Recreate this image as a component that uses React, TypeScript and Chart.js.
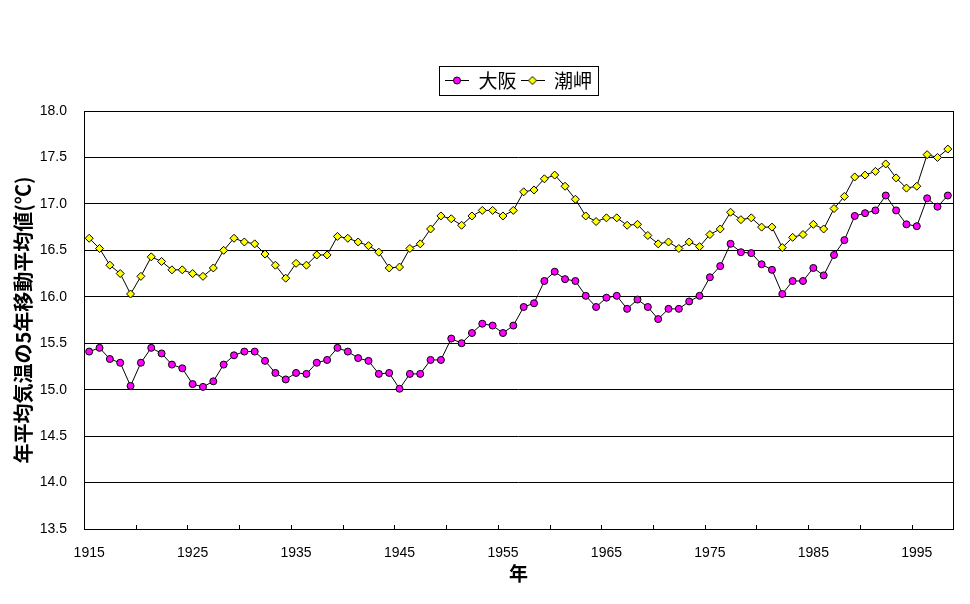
import React, { useEffect, useRef } from "react";
import { Chart, registerables } from "chart.js";

Chart.register(...registerables);

const years = [
  "1915", "1916", "1917", "1918", "1919", "1920", "1921", "1922", "1923", "1924",
  "1925", "1926", "1927", "1928", "1929", "1930", "1931", "1932", "1933", "1934",
  "1935", "1936", "1937", "1938", "1939", "1940", "1941", "1942", "1943", "1944",
  "1945", "1946", "1947", "1948", "1949", "1950", "1951", "1952", "1953", "1954",
  "1955", "1956", "1957", "1958", "1959", "1960", "1961", "1962", "1963", "1964",
  "1965", "1966", "1967", "1968", "1969", "1970", "1971", "1972", "1973", "1974",
  "1975", "1976", "1977", "1978", "1979", "1980", "1981", "1982", "1983", "1984",
  "1985", "1986", "1987", "1988", "1989", "1990", "1991", "1992", "1993", "1994",
  "1995", "1996", "1997", "1998",
];

const osaka = [
  15.41, 15.45, 15.33, 15.29, 15.04, 15.29, 15.45, 15.39, 15.27, 15.23,
  15.06, 15.03, 15.09, 15.27, 15.37, 15.41, 15.41, 15.31, 15.18, 15.11,
  15.18, 15.17, 15.29, 15.32, 15.45, 15.41, 15.34, 15.31, 15.17, 15.18,
  15.01, 15.17, 15.17, 15.32, 15.32, 15.55, 15.50, 15.61, 15.71, 15.69,
  15.61, 15.69, 15.89, 15.93, 16.17, 16.27, 16.19, 16.17, 16.01, 15.89,
  15.99, 16.01, 15.87, 15.97, 15.89, 15.76, 15.87, 15.87, 15.95, 16.01,
  16.21, 16.33, 16.57, 16.48, 16.47, 16.35, 16.29, 16.03, 16.17, 16.17,
  16.31, 16.23, 16.45, 16.61, 16.87, 16.90, 16.93, 17.09, 16.93, 16.78,
  16.76, 17.06, 16.97, 17.09,
];

const shionomisaki = [
  16.63, 16.52, 16.34, 16.25, 16.03, 16.22, 16.43, 16.38, 16.29, 16.29,
  16.25, 16.22, 16.31, 16.50, 16.63, 16.59, 16.57, 16.46, 16.34, 16.20,
  16.36, 16.34, 16.45, 16.45, 16.65, 16.63, 16.59, 16.55, 16.48, 16.31,
  16.32, 16.52, 16.57, 16.73, 16.87, 16.84, 16.77, 16.87, 16.93, 16.93,
  16.87, 16.93, 17.13, 17.15, 17.27, 17.31, 17.19, 17.05, 16.87, 16.81,
  16.85, 16.85, 16.77, 16.78, 16.66, 16.57, 16.59, 16.52, 16.59, 16.54,
  16.67, 16.73, 16.91, 16.83, 16.85, 16.75, 16.75, 16.53, 16.64, 16.67,
  16.78, 16.73, 16.95, 17.08, 17.29, 17.31, 17.35, 17.43, 17.28, 17.17,
  17.19, 17.53, 17.50, 17.59,
];

const seriesNames = ["大阪", "潮岬"];
const yMin = 13.5;
const yMax = 18.0;
const yStep = 0.5;
const yTitle = "年平均気温の5年移動平均値(℃)";
const xTitle = "年";

const CJK = '"Noto Sans CJK JP", sans-serif';
const LATIN = '"Liberation Sans", Arial, sans-serif';

function makeLegendImage(kind: "circle" | "diamond", fill: string) {
  const c = document.createElement("canvas");
  c.width = 24;
  c.height = 11;
  const g = c.getContext("2d")!;
  g.strokeStyle = "#000";
  g.lineWidth = 1;
  g.beginPath();
  g.moveTo(0, 5.5);
  g.lineTo(24, 5.5);
  g.stroke();
  g.fillStyle = fill;
  g.beginPath();
  if (kind === "circle") {
    g.arc(12, 5.5, 3.5, 0, Math.PI * 2);
  } else {
    g.moveTo(12, 1.5);
    g.lineTo(16, 5.5);
    g.lineTo(12, 9.5);
    g.lineTo(8, 5.5);
    g.closePath();
  }
  g.fill();
  g.stroke();
  return c;
}

export default function App() {
  const ref = useRef<HTMLCanvasElement | null>(null);

  useEffect(() => {
    if (!ref.current) return;
    const legendImages = [
      makeLegendImage("circle", "#FF00FF"),
      makeLegendImage("diamond", "#FFFF00"),
    ];

    const framePlugin = {
      id: "excelFrame",
      afterLayout(chart: any) {
        const lg = chart.legend;
        const ca = chart.chartArea;
        if (lg) {
          lg.left = ca.left;
          lg.right = ca.right;
          lg.width = ca.right - ca.left;
          lg.top -= 11;
          lg.bottom -= 11;
        }
      },
      beforeDatasetsDraw(chart: any) {
        const { ctx, chartArea } = chart;
        const xs = chart.scales.x;
        ctx.save();
        ctx.strokeStyle = "#000";
        ctx.lineWidth = 1;
        ctx.strokeRect(
          Math.round(chartArea.left) + 0.5,
          Math.round(chartArea.top) + 0.5,
          Math.round(chartArea.right) - Math.round(chartArea.left),
          Math.round(chartArea.bottom) - Math.round(chartArea.top)
        );
        for (let i = 5; i < years.length; i += 5) {
          const px = Math.round((xs.getPixelForValue(i - 1) + xs.getPixelForValue(i)) / 2) + 0.5;
          ctx.beginPath();
          ctx.moveTo(px, Math.round(chartArea.bottom));
          ctx.lineTo(px, Math.round(chartArea.bottom) - 4);
          ctx.stroke();
        }
        ctx.restore();
      },
      afterDraw(chart: any) {
        const lg = chart.legend;
        if (!lg || !lg.legendHitBoxes || !lg.legendHitBoxes.length) return;
        const hb = lg.legendHitBoxes;
        let l = Infinity, r = -Infinity, t = Infinity, b = -Infinity;
        hb.forEach((h: any) => {
          l = Math.min(l, h.left);
          r = Math.max(r, h.left + h.width);
          t = Math.min(t, h.top);
          b = Math.max(b, h.top + h.height);
        });
        const ctx = chart.ctx;
        ctx.save();
        ctx.strokeStyle = "#000";
        ctx.lineWidth = 1;
        ctx.strokeRect(Math.round(l - 6) + 0.5, Math.round(t - 5) + 0.5, Math.round(r - l + 12), Math.round(b - t + 10));
        ctx.restore();
      },
    };

    const chart = new Chart(ref.current, {
      type: "line",
      data: {
        labels: years,
        datasets: [
          {
            label: seriesNames[0],
            data: osaka,
            borderColor: "#000",
            borderWidth: 1,
            pointStyle: "circle",
            pointRadius: 3.5,
            pointBackgroundColor: "#FF00FF",
            pointBorderColor: "#000",
            pointBorderWidth: 1,
            tension: 0,
          },
          {
            label: seriesNames[1],
            data: shionomisaki,
            borderColor: "#000",
            borderWidth: 1,
            pointStyle: "rectRot",
            pointRadius: 4,
            pointBackgroundColor: "#FFFF00",
            pointBorderColor: "#000",
            pointBorderWidth: 1,
            tension: 0,
          },
        ],
      },
      options: {
        responsive: false,
        animation: false,
        devicePixelRatio: 1,
        layout: { padding: { top: 78, left: 0, right: 17, bottom: 0 } },
        plugins: {
          tooltip: { enabled: false },
          legend: {
            display: true,
            position: "top",
            align: "center",
            labels: {
              usePointStyle: true,
              pointStyleWidth: 24,
              padding: 4,
              color: "#000",
              font: { family: CJK, size: 19 },
              generateLabels: (c: any) => {
                const items = (Chart.defaults.plugins.legend.labels as any).generateLabels(c);
                return items.map((it: any, i: number) => ({ ...it, pointStyle: legendImages[i] }));
              },
            },
          },
        },
        scales: {
          x: {
            type: "category",
            offset: true,
            grid: { display: false },
            border: { display: false },
            ticks: {
              autoSkip: false,
              maxRotation: 0,
              minRotation: 0,
              padding: 8,
              color: "#000",
              font: { family: LATIN, size: 14 },
              callback: (_v: any, idx: number) => (idx % 10 === 0 ? years[idx] : ""),
            },
            title: {
              display: true,
              text: xTitle,
              color: "#000",
              font: { family: CJK, size: 19, weight: "bold" },
              padding: { top: 19, bottom: 19 },
            },
            afterFit: (s: any) => {
              s.height = 75;
            },
          },
          y: {
            min: yMin,
            max: yMax,
            border: { display: false },
            grid: { color: "#000", lineWidth: 1, drawTicks: false },
            ticks: {
              stepSize: yStep,
              padding: 17,
              color: "#000",
              font: { family: LATIN, size: 14 },
              callback: (v: any) => Number(v).toFixed(1),
            },
            title: {
              display: true,
              text: yTitle,
              color: "#000",
              font: { family: CJK, size: 20, weight: "bold" },
              padding: { top: 11, bottom: 11 },
            },
            afterFit: (s: any) => {
              s.width = 84;
            },
          },
        },
      },
      plugins: [framePlugin],
    } as any);

    return () => chart.destroy();
  }, []);

  return (
    <div style={{ position: "absolute", left: 0, top: 0, width: 970, height: 604, background: "#fff" }}>
      <canvas ref={ref} width={970} height={604} style={{ display: "block" }} />
    </div>
  );
}
